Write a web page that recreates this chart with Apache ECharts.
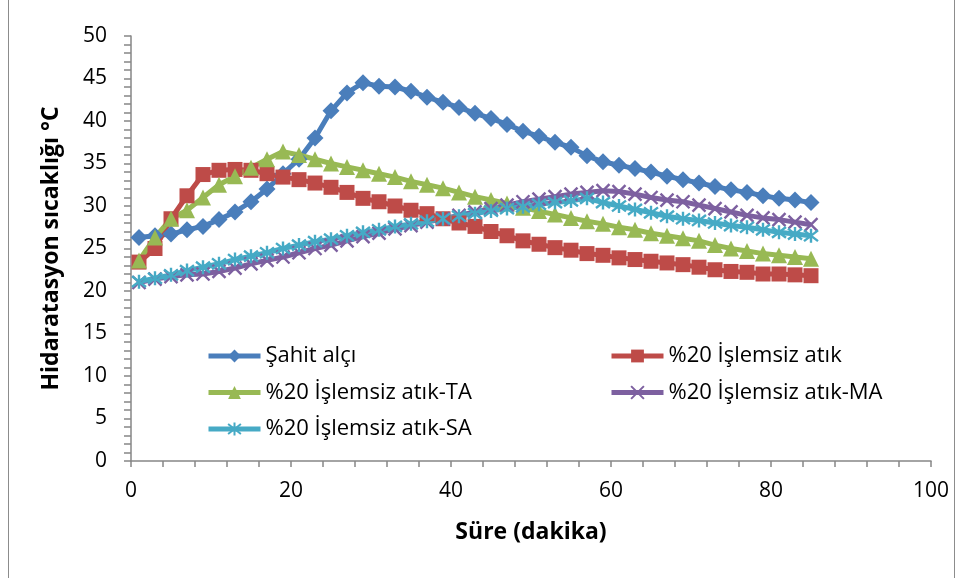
<!DOCTYPE html>
<html>
<head>
<meta charset="utf-8">
<script src="https://cdn.jsdelivr.net/npm/echarts@6/dist/echarts.min.js"></script>
<style>
  html, body { margin: 0; padding: 0; background: #ffffff; }
  #chart { width: 963px; height: 578px; }
</style>
</head>
<body>
<div id="chart"></div>
<script>
// Time points (minutes)
const minutes = [1, 3, 5, 7, 9, 11, 13, 15, 17, 19, 21, 23, 25, 27, 29, 31, 33, 35, 37, 39, 41, 43,
                 45, 47, 49, 51, 53, 55, 57, 59, 61, 63, 65, 67, 69, 71, 73, 75, 77, 79, 81, 83, 85];

// Hydration temperature (°C) per mixture
const sahitAlci = [26.3, 26.5, 26.7, 27.2, 27.6, 28.4, 29.3, 30.5, 32.0, 33.8, 35.5, 38.0, 41.2, 43.3,
                   44.5, 44.1, 44.0, 43.5, 42.8, 42.2, 41.6, 40.9, 40.3, 39.6, 38.8, 38.2, 37.5, 36.9,
                   35.9, 35.2, 34.8, 34.4, 34.0, 33.5, 33.1, 32.7, 32.3, 31.9, 31.6, 31.2, 30.9, 30.7, 30.4];
const islemsiz = [23.4, 25.0, 28.5, 31.2, 33.7, 34.2, 34.3, 34.2, 33.8, 33.4, 33.1, 32.7, 32.2, 31.6,
                  30.9, 30.5, 30.0, 29.5, 29.1, 28.5, 28.0, 27.6, 27.0, 26.5, 25.9, 25.5, 25.1, 24.8,
                  24.4, 24.2, 23.9, 23.7, 23.5, 23.3, 23.1, 22.8, 22.5, 22.3, 22.2, 22.0, 22.0, 21.9, 21.8];
const islemsizTA = [23.6, 26.3, 28.5, 29.5, 31.0, 32.5, 33.5, 34.5, 35.5, 36.4, 36.0, 35.5, 35.0, 34.6,
                    34.2, 33.8, 33.4, 32.9, 32.5, 32.1, 31.6, 31.1, 30.7, 30.3, 29.8, 29.4, 29.0, 28.6,
                    28.2, 27.9, 27.5, 27.2, 26.8, 26.5, 26.2, 25.9, 25.4, 25.0, 24.7, 24.4, 24.2, 24.0, 23.8];
const islemsizMA = [21.0, 21.4, 21.7, 21.9, 22.0, 22.3, 22.7, 23.2, 23.6, 24.0, 24.5, 25.0, 25.4, 25.9,
                    26.4, 26.8, 27.3, 27.7, 28.1, 28.5, 28.9, 29.3, 29.7, 30.1, 30.5, 30.8, 31.1, 31.4,
                    31.6, 31.8, 31.7, 31.4, 31.0, 30.7, 30.5, 30.1, 29.7, 29.3, 28.9, 28.6, 28.4, 28.1, 27.8];
const islemsizSA = [21.1, 21.5, 21.9, 22.4, 22.8, 23.2, 23.7, 24.1, 24.5, 25.0, 25.4, 25.8, 26.1, 26.5,
                    26.9, 27.2, 27.6, 27.9, 28.2, 28.5, 28.8, 29.1, 29.4, 29.7, 29.9, 30.2, 30.4, 30.6,
                    30.9, 30.4, 30.0, 29.6, 29.2, 28.8, 28.5, 28.3, 28.0, 27.7, 27.5, 27.2, 26.9, 26.7, 26.5];

const seriesNames = ['Şahit alçı', '%20 İşlemsiz atık', '%20 İşlemsiz atık-TA',
                     '%20 İşlemsiz atık-MA', '%20 İşlemsiz atık-SA'];
const seriesColors = ['#4A7EBB', '#BE4B48', '#98B954', '#7D60A0', '#46AAC5'];

const xTicks = { min: 0, max: 100, step: 20 };
const yTicks = { min: 0, max: 50, step: 5 };

const FONT = '"Open Sans", Lato, sans-serif';
const AXIS_GRAY = '#868686';

// stroked marker outlines: an "x" and an asterisk
const xMark = 'path://M0,0L10,10M10,0L0,10';
const starMark = 'path://M0,0L10,10M10,0L0,10M5,-1.5L5,11.5';

function pairs(vals) {
  return minutes.map((m, i) => [m, vals[i]]);
}

function lineSeries(idx, vals, symbol, size, stroke) {
  const color = seriesColors[idx];
  const s = {
    name: seriesNames[idx],
    type: 'line',
    data: pairs(vals),
    symbol: symbol,
    symbolSize: size,
    lineStyle: { color: color, width: 5 },
    emphasis: { lineStyle: { width: 5 } }
  };
  s.itemStyle = stroke
    ? { color: 'rgba(0,0,0,0)', borderColor: color, borderWidth: 2.4 }
    : { color: color };
  return s;
}

const chart = echarts.init(document.getElementById('chart'), null, { renderer: 'canvas' });

const legendText = { fontFamily: FONT, fontSize: 22, color: '#000', lineHeight: 22 };
const legendLine = { width: 'inherit' };

chart.setOption({
  backgroundColor: '#ffffff',
  animation: false,
  color: seriesColors,
  grid: { left: 131, right: 32, top: 36, bottom: 117, containLabel: false },
  xAxis: {
    type: 'value',
    min: xTicks.min, max: xTicks.max, interval: xTicks.step,
    name: 'Süre (dakika)',
    nameLocation: 'middle',
    nameGap: 60,
    nameTextStyle: { fontFamily: FONT, fontSize: 23, fontWeight: 'bold', color: '#000' },
    axisLine: { lineStyle: { color: AXIS_GRAY, width: 1.5 } },
    axisTick: { show: true, inside: false, length: 6, lineStyle: { color: AXIS_GRAY, width: 1.5 } },
    minorTick: { show: true, splitNumber: 5, length: 6, lineStyle: { color: AXIS_GRAY, width: 1.5 } },
    axisLabel: { fontFamily: FONT, fontSize: 21, color: '#000', margin: 20 },
    splitLine: { show: false }
  },
  yAxis: {
    type: 'value',
    min: yTicks.min, max: yTicks.max, interval: yTicks.step,
    name: 'Hidaratasyon sıcaklığı °C',
    nameLocation: 'middle',
    nameGap: 68,
    nameTextStyle: { fontFamily: FONT, fontSize: 23, fontWeight: 'bold', color: '#000' },
    axisLine: { show: true, lineStyle: { color: AXIS_GRAY, width: 1.5 } },
    axisTick: { show: true, inside: false, length: 7, lineStyle: { color: AXIS_GRAY, width: 1.5 } },
    minorTick: { show: true, splitNumber: 5, length: 7, lineStyle: { color: AXIS_GRAY, width: 1.5 } },
    axisLabel: { fontFamily: FONT, fontSize: 21, color: '#000', margin: 24 },
    splitLine: { show: false }
  },
  legend: [
    {
      data: [seriesNames[0], seriesNames[2], seriesNames[4]],
      orient: 'vertical', left: 201, top: 340,
      itemWidth: 52, itemHeight: 16, itemGap: 14.5,
      lineStyle: legendLine,
      textStyle: legendText, selectedMode: false
    },
    {
      data: [seriesNames[1], seriesNames[3]],
      orient: 'vertical', left: 604, top: 340,
      itemWidth: 52, itemHeight: 16, itemGap: 14.5,
      lineStyle: legendLine,
      textStyle: legendText, selectedMode: false
    }
  ],
  graphic: [
    {
      type: 'rect',
      shape: { x: 8.5, y: -2, width: 946, height: 584 },
      style: { fill: 'none', stroke: '#8c8c8c', lineWidth: 1 },
      silent: true
    }
  ],
  series: [
    lineSeries(0, sahitAlci, 'diamond', 17, false),
    lineSeries(1, islemsiz, 'rect', 15, false),
    lineSeries(2, islemsizTA, 'triangle', 16, false),
    lineSeries(3, islemsizMA, xMark, 13, true),
    lineSeries(4, islemsizSA, starMark, 14, true)
  ]
});
</script>
</body>
</html>
